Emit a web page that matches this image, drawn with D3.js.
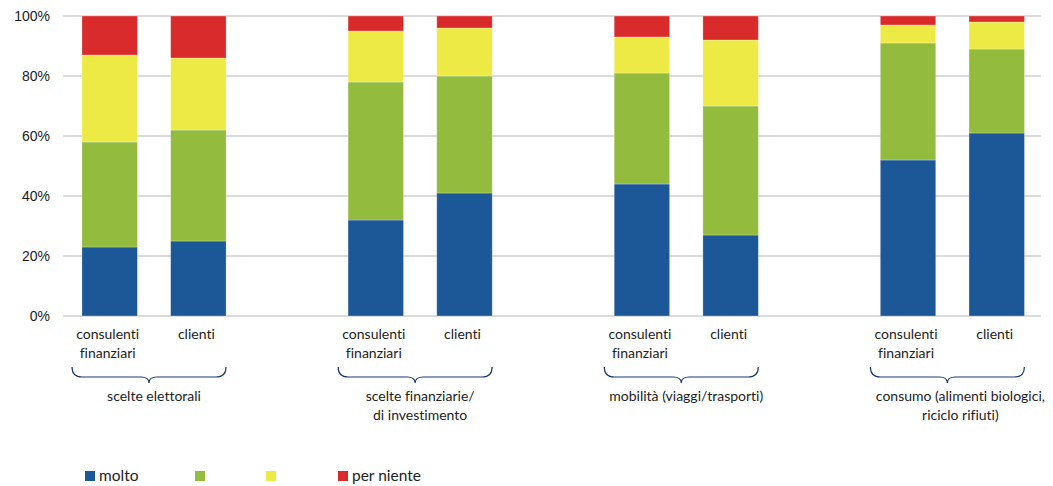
<!DOCTYPE html>
<html>
<head>
<meta charset="utf-8">
<script src="https://cdn.jsdelivr.net/npm/d3@7"></script>
<style>
  html, body { margin: 0; padding: 0; background: #fff; }
  svg { display: block; }
  text { font-variant-ligatures: none; font-feature-settings: "liga" 0; }
</style>
</head>
<body>
<svg id="chart" width="1053" height="486"></svg>
<script>
// ---- DATA ----
const groups = [
  ["scelte elettorali"],
  ["scelte finanziarie/", "di investimento"],
  ["mobilità (viaggi/trasporti)"],
  ["consumo (alimenti biologici,", "riciclo rifiuti)"]
];
const respondents = [["consulenti", "finanziari"], ["clienti"]];
const seriesKeys = ["molto", "abbastanza", "poco", "per niente"];
const legendLabels = ["molto", "", "", "per niente"];
// order per bar: g1 consulenti, g1 clienti, g2 consulenti, g2 clienti, ...
const molto      = [23, 25, 32, 41, 44, 27, 52, 61];
const abbastanza = [35, 37, 46, 39, 37, 43, 39, 28];
const poco       = [29, 24, 17, 16, 12, 22,  6,  9];
const perNiente  = [13, 14,  5,  4,  7,  8,  3,  2];
const yTicks = [0, 20, 40, 60, 80, 100];
const colors = ["#1c5797", "#93bb3d", "#eeea45", "#d92b2b"];

(function () {
// ---- LAYOUT ----
const svg = d3.select("#chart");
const mLeft = 63, mRight = 1041, mTop = 16, mBottom = 316;
const labelFont = "Lato, 'Open Sans', sans-serif";

// slot keys: two bars per group, one blank slot between groups
const slots = [];
const rows = [];
const seriesVals = [molto, abbastanza, poco, perNiente];
groups.forEach((g, gi) => {
  respondents.forEach((r, ri) => {
    const idx = gi * respondents.length + ri;
    const key = `g${gi}r${ri}`;
    slots.push(key);
    const row = { key, gi, ri };
    seriesKeys.forEach((s, si) => row[s] = seriesVals[si][idx]);
    rows.push(row);
  });
  if (gi < groups.length - 1) slots.push(`gap${gi}`);
});

const x = d3.scaleBand().domain(slots).range([mLeft + 1.2, mRight + 1.2]).paddingInner(0.375).paddingOuter(0.2);
const y = d3.scaleLinear().domain([0, 100]).range([mBottom, mTop]);

// gridlines
svg.append("g").selectAll("line").data(yTicks).join("line")
  .attr("x1", mLeft).attr("x2", mRight)
  .attr("y1", d => y(d)).attr("y2", d => y(d))
  .attr("stroke", "#cfcfcf").attr("stroke-width", 1.5);

// y axis labels
const yAxis = d3.axisLeft(y).tickValues(yTicks).tickFormat(d => d + "%").tickSize(0).tickPadding(0);
const ya = svg.append("g").attr("transform", `translate(50,0)`).call(yAxis);
ya.select(".domain").remove();
ya.selectAll("text")
  .attr("font-family", "'Liberation Sans', Arial, sans-serif")
  .attr("font-size", 14).attr("fill", "#1a1a1a");

// stacked bars
const stacked = d3.stack().keys(seriesKeys)(rows);
svg.append("g").selectAll("g").data(stacked).join("g")
  .attr("fill", (d, i) => colors[i])
  .selectAll("rect").data(d => d).join("rect")
  .attr("x", d => x(d.data.key))
  .attr("width", x.bandwidth())
  .attr("y", d => y(d[1]))
  .attr("height", d => y(d[0]) - y(d[1]))
  .attr("stroke", "#ffffff").attr("stroke-opacity", 0.35).attr("stroke-width", 0.8);

// bar labels
const bl = svg.append("g").attr("font-family", labelFont).attr("font-size", 14)
  .attr("fill", "#222").attr("text-anchor", "middle");
rows.forEach(r => {
  const cx = x(r.key) + x.bandwidth() / 2 - 2;
  const t = bl.append("text").attr("x", cx).attr("y", 339);
  respondents[r.ri].forEach((line, li) => {
    t.append("tspan").attr("x", cx).attr("dy", li === 0 ? 0 : 18.5).text(line);
  });
});

// braces & group labels
const labelShift = [0, 0, 0, 8];
const gb = svg.append("g");
groups.forEach((g, gi) => {
  const a = x(`g${gi}r0`), b = x(`g${gi}r1`) + x.bandwidth();
  const gc = (a + b) / 2;
  const cx = gc - 5, x0 = cx - 77, x1 = cx + 77;
  const yt = 367, yh = 377, yc = 383;
  const p = d3.path();
  p.moveTo(x0, yt);
  p.quadraticCurveTo(x0, yh, x0 + 10, yh);
  p.lineTo(cx - 8, yh);
  p.quadraticCurveTo(cx, yh, cx, yc);
  p.quadraticCurveTo(cx, yh, cx + 8, yh);
  p.lineTo(x1 - 10, yh);
  p.quadraticCurveTo(x1, yh, x1, yt);
  gb.append("path").attr("d", p.toString()).attr("fill", "none")
    .attr("stroke", "#1d3a6e").attr("stroke-width", 1.2);
  const tx = gc + labelShift[gi];
  const t = gb.append("text").attr("x", tx).attr("y", 401)
    .attr("font-family", labelFont).attr("font-size", 14).attr("fill", "#222")
    .attr("text-anchor", "middle");
  g.forEach((line, li) => {
    t.append("tspan").attr("x", tx).attr("dy", li === 0 ? 0 : 18.5).text(line);
  });
});

// legend
const legendX = [85, 195, 266, 338];
const lg = svg.append("g");
seriesKeys.forEach((s, i) => {
  lg.append("rect").attr("x", legendX[i]).attr("y", 471).attr("width", 10).attr("height", 10)
    .attr("fill", colors[i]);
  lg.append("text").attr("x", legendX[i] + 14).attr("y", 481)
    .attr("font-family", labelFont).attr("font-size", 15.5).attr("fill", "#222")
    .text(legendLabels[i]);
});
})();
</script>
</body>
</html>
